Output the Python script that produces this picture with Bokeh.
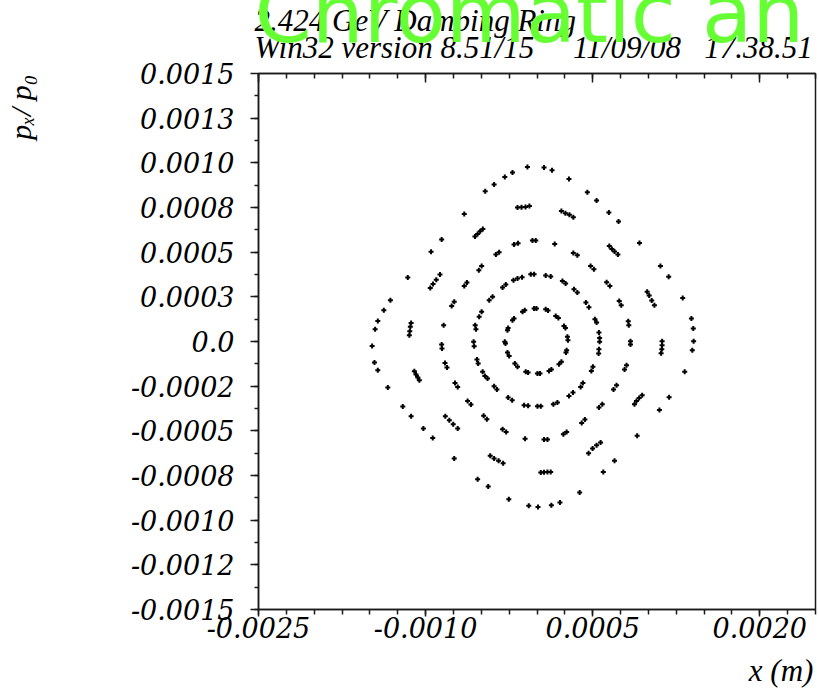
import numpy as np
from bokeh.plotting import figure
from bokeh.models import LinearAxis, FixedTicker, Title, ColumnDataSource
from bokeh.embed import file_html
from bokeh.resources import INLINE

# ---- data (metres, p_x/p_0) ----
ring1_x = [-0.000026, -0.000005, -0.000130, -0.000110, -0.000220, -0.000206, -0.000265, -0.000259,
           -0.000289, -0.000283, 0.000078, 0.000099, 0.000168, 0.000192, 0.000242, 0.000255,
           0.000273, 0.000278, -0.000265, -0.000250, -0.000199, -0.000175, -0.000101, -0.000080,
           0.000004, 0.000266, 0.000260, 0.000219, 0.000197, 0.000129, 0.000108, 0.000027]
ring1_y = [0.000185, 0.000185, 0.000166, 0.000175, 0.000119, 0.000129, 0.000063, 0.000076,
           -0.000002, -0.000011, 0.000181, 0.000174, 0.000143, 0.000132, 0.000087, 0.000076,
           0.000026, 0.000007, -0.000062, -0.000081, -0.000123, -0.000142, -0.000170, -0.000174,
           -0.000179, -0.000049, -0.000062, -0.000114, -0.000127, -0.000157, -0.000165, -0.000179]

ring2_x = [-0.000056, -0.000026, -0.000211, -0.000175, -0.000134, -0.000309, -0.000280, -0.000429,
           -0.000399, -0.000519, -0.000497, -0.000555, -0.000548, -0.000569, -0.000564, -0.000539,
           -0.000528, -0.000488, -0.000468, -0.000444, -0.000385, -0.000360, -0.000259, -0.000223,
           -0.000116, -0.000080, 0.000004, 0.000078, 0.000123, 0.000228, 0.000257, 0.000332,
           0.000362, 0.000439, 0.000466, 0.000520, 0.000535, 0.000556, 0.000562, 0.000562,
           0.000556, 0.000553, 0.000502, 0.000488, 0.000412, 0.000392, 0.000323, 0.000287,
           0.000183, 0.000147, 0.000034]
ring2_y = [0.000377, 0.000377, 0.000343, 0.000353, 0.000360, 0.000302, 0.000319, 0.000231,
           0.000250, 0.000138, 0.000166, 0.000091, 0.000069, -0.000002, -0.000026, -0.000101,
           -0.000123, -0.000170, -0.000193, -0.000207, -0.000250, -0.000269, -0.000313, -0.000329,
           -0.000357, -0.000360, -0.000362, 0.000369, 0.000364, 0.000338, 0.000325, 0.000293,
           0.000274, 0.000218, 0.000192, 0.000125, 0.000106, 0.000050, 0.000020, -0.000002,
           -0.000043, -0.000067, -0.000142, -0.000165, -0.000232, -0.000254, -0.000285, -0.000305,
           -0.000341, -0.000351, -0.000362]

ring3_x = [-0.000041, -0.000011, -0.000206, -0.000170, -0.000369, -0.000340, -0.000522, -0.000497,
           -0.000653, -0.000629, -0.000766, -0.000743, -0.000838, -0.000856, -0.000853, -0.000826,
           -0.000808, -0.000736, -0.000712, -0.000623, -0.000593, -0.000479, -0.000450, -0.000309,
           -0.000277, -0.000107, 0.000159, 0.000326, 0.000362, 0.000481, 0.000511, 0.000625,
           0.000654, 0.000738, 0.000756, 0.000819, 0.000824, 0.000839, 0.000839, 0.000804,
           0.000786, 0.000714, 0.000687, 0.000586, 0.000556, 0.000430, 0.000401, 0.000266,
           0.000237, 0.000094, 0.000063]
ring3_y = [0.000565, 0.000565, 0.000543, 0.000550, 0.000487, 0.000500, 0.000399, 0.000422,
           0.000311, 0.000330, 0.000199, 0.000222, 0.000091, -0.000017, -0.000039, -0.000120,
           -0.000146, -0.000232, -0.000254, -0.000333, -0.000353, -0.000416, -0.000435, -0.000491,
           -0.000506, -0.000545, 0.000546, 0.000496, 0.000483, 0.000423, 0.000405, 0.000332,
           0.000311, 0.000226, 0.000203, 0.000114, 0.000091, 0.000002, -0.000017, -0.000133,
           -0.000157, -0.000245, -0.000269, -0.000351, -0.000369, -0.000437, -0.000456, -0.000506,
           -0.000519, -0.000549, -0.000549]

ring4_x = [-0.000175, -0.000139, -0.000103, -0.000068, -0.000557, -0.000533, -0.000510, -0.000486,
           -0.000958, -0.000933, -0.000904, -0.000871, -0.001130, -0.001137, -0.001142, -0.001146,
           -0.001101, -0.001086, -0.001070, -0.001056, -0.000823, -0.000787, -0.000752, -0.000712,
           -0.000420, -0.000385, -0.000345, -0.000304, 0.000219, 0.000255, 0.000291, 0.000326,
           0.000649, 0.000672, 0.000696, 0.000726, 0.000989, 0.001007, 0.001030, 0.001054,
           0.001123, 0.001123, 0.001120, 0.001114, 0.000944, 0.000917, 0.000893, 0.000875,
           0.000571, 0.000535, 0.000499, 0.000463, 0.000034, 0.000063, 0.000094, 0.000123]
ring4_y = [0.000750, 0.000752, 0.000753, 0.000759, 0.000588, 0.000602, 0.000617, 0.000630,
           0.000300, 0.000322, 0.000345, 0.000375, 0.000104, 0.000082, 0.000058, 0.000035,
           -0.000166, -0.000185, -0.000202, -0.000217, -0.000418, -0.000441, -0.000463, -0.000487,
           -0.000640, -0.000655, -0.000668, -0.000681, 0.000731, 0.000718, 0.000709, 0.000696,
           0.000535, 0.000518, 0.000504, 0.000487, 0.000278, 0.000258, 0.000230, 0.000203,
           0.000002, -0.000021, -0.000043, -0.000066, -0.000301, -0.000316, -0.000333, -0.000351,
           -0.000565, -0.000580, -0.000599, -0.000625, -0.000733, -0.000732, -0.000730, -0.000730]

ring5_x = [-0.000086, -0.000220, -0.000289, -0.000385, -0.000465, -0.000653, -0.000856, -0.000951,
           -0.001160, -0.001316, -0.001375, -0.001429, -0.001453, -0.001480, -0.001459, -0.001429,
           -0.001339, -0.001205, -0.001130, -0.001020, -0.000936, -0.000743, -0.000533, -0.000438,
           -0.000253, -0.000074, 0.000009, 0.000129, 0.000206, 0.000383, 0.000595, 0.000696,
           0.000899, 0.001099, 0.001186, 0.001326, 0.001394, 0.001406, 0.000063, 0.000135,
           0.000287, 0.000452, 0.000535, 0.000645, 0.000732, 0.000920, 0.001108, 0.001182,
           0.001308, 0.001386, 0.001403]
ring5_y = [0.000977, 0.000946, 0.000921, 0.000879, 0.000841, 0.000714, 0.000571, 0.000502,
           0.000358, 0.000231, 0.000175, 0.000115, 0.000069, -0.000025, -0.000118, -0.000161,
           -0.000258, -0.000364, -0.000418, -0.000487, -0.000540, -0.000655, -0.000771, -0.000812,
           -0.000883, -0.000920, -0.000926, -0.000916, -0.000901, -0.000845, -0.000730, -0.000668,
           -0.000528, -0.000383, -0.000312, -0.000170, -0.000049, 0.000002, 0.000974, 0.000959,
           0.000910, 0.000836, 0.000789, 0.000722, 0.000672, 0.000552, 0.000422, 0.000362,
           0.000244, 0.000129, 0.000073]

x_tick_values = [-0.0025, -0.001, 0.0005, 0.002]
x_tick_labels = ["-0.0025", "-0.0010", "0.0005", "0.0020"]
y_tick_values = [-0.0015, -0.00125, -0.001, -0.00075, -0.0005, -0.00025, 0.0,
                 0.00025, 0.0005, 0.00075, 0.001, 0.00125, 0.0015]
y_tick_labels = ["-0.0015", "-0.0012", "-0.0010", "-0.0008", "-0.0005", "-0.0002", "0.0",
                 "0.0003", "0.0005", "0.0008", "0.0010", "0.0013", "0.0015"]

title_text = "Chromatic an"
header_line1 = "2.424 GeV Damping Ring"
NB = "\u00a0"
header_line2 = "Win32 version 8.51/15" + NB * 5 + "11/09/08" + NB * 3 + "17.38.51"
x_label = "x (m)"
y_label = "p\u2093/ p\u2080"

SERIF = "Liberation Serif"
TICK_FONT = "DejaVu Serif"
INK = "#1a1a1a"

xs = np.concatenate([ring1_x, ring2_x, ring3_x, ring4_x, ring5_x])
ys = np.concatenate([ring1_y, ring2_y, ring3_y, ring4_y, ring5_y])
src = ColumnDataSource(data=dict(x=xs, y=ys))

p = figure(width=819, height=694, x_range=(-0.0025, 0.0025), y_range=(-0.0015, 0.0015),
           output_backend="svg", toolbar_location=None, x_axis_type=None, y_axis_type=None,
           title=None,
           min_border_left=257, min_border_right=4, min_border_top=73, min_border_bottom=85)
p.outline_line_color = INK
p.outline_line_width = 1.5
p.background_fill_color = "white"
p.border_fill_color = "white"

x_minor = list(np.arange(-0.0025, 0.0025 + 1e-9, 0.00025))
y_minor = list(np.arange(-0.0015, 0.0015 + 1e-9, 0.000125))
xt = FixedTicker(ticks=x_tick_values, minor_ticks=x_minor)
yt = FixedTicker(ticks=y_tick_values, minor_ticks=y_minor)


def style(ax):
    ax.axis_line_color = INK
    ax.axis_line_width = 1.5
    ax.major_tick_line_color = INK
    ax.minor_tick_line_color = INK
    ax.major_tick_line_width = 1.5
    ax.minor_tick_line_width = 1.5
    ax.major_label_text_font = TICK_FONT
    ax.major_label_text_font_style = "italic"
    ax.major_label_text_font_size = "27px"
    ax.major_label_text_color = "black"
    ax.axis_label_text_font = SERIF
    ax.axis_label_text_font_style = "italic"
    ax.axis_label_text_color = "black"


left = LinearAxis(ticker=yt, major_label_overrides=dict(zip(y_tick_values, y_tick_labels)))
style(left)
left.major_tick_out = 8
left.major_tick_in = 0
left.minor_tick_out = 4
left.minor_tick_in = 0
left.major_label_standoff = 16

bottom = LinearAxis(ticker=xt, major_label_overrides=dict(zip(x_tick_values, x_tick_labels)))
style(bottom)
bottom.major_tick_out = 7
bottom.major_tick_in = 0
bottom.minor_tick_out = 5
bottom.minor_tick_in = 0
bottom.major_label_standoff = 0

# y label: centred on the top end of the axis; trailing no-break spaces move the
# visible glyphs down so that they start just below the frame's top edge
left.axis_label = y_label + NB * 9
left.axis_label_text_font_size = "30px"
left.axis_label_standoff = 91
left.axis_label_align = "end"

# x label: centred under the frame; leading no-break spaces push it to the right edge
bottom.axis_label = NB * 63 + x_label
bottom.axis_label_text_font_size = "31px"
bottom.axis_label_standoff = 12
bottom.axis_label_align = "center"

p.add_layout(left, "left")
p.add_layout(bottom, "below")

top = LinearAxis(ticker=xt, major_label_overrides={v: "" for v in x_tick_values})
style(top)
top.major_tick_out = 0
top.major_tick_in = 9
top.minor_tick_out = 0
top.minor_tick_in = 5
top.major_label_standoff = 4
top.major_label_text_font_size = "1px"
p.add_layout(top, "above")

p.scatter("x", "y", source=src, marker="cross", size=5, line_width=2, color="black")


def title(text, size, standoff, align="left", valign="bottom", offset=0,
          font=SERIF, style_="italic", color="black"):
    return Title(text=text, text_font=font, text_font_style=style_, text_font_size=size,
                 text_color=color, align=align, vertical_align=valign,
                 standoff=standoff, offset=offset)


# header block above the frame (first added = closest to the frame)
p.add_layout(title(header_line2, "31px", 17, offset=-4), "above")
p.add_layout(title(header_line1, "31px", -36, offset=-4), "above")
p.add_layout(title(title_text, "82px", -85, offset=-4, font="DejaVu Sans",
                   style_="normal", color="#66ff33"), "above")

open("out.html", "w").write(file_html(p, INLINE))
